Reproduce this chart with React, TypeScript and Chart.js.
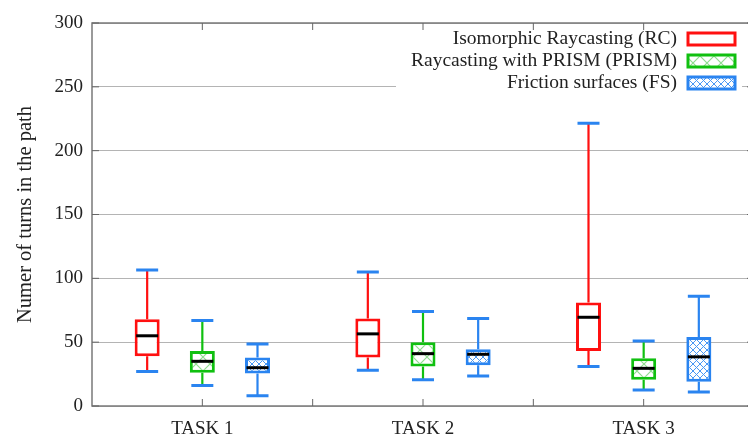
import React, { useEffect, useRef } from "react";
import { Chart, registerables } from "chart.js";

Chart.register(...registerables);

const categories = ["TASK 1", "TASK 2", "TASK 3"];
const seriesNames = [
  "Isomorphic Raycasting (RC)",
  "Raycasting with PRISM (PRISM)",
  "Friction surfaces (FS)",
];
const yAxisTitle = "Numer of turns in the path";
const yTickValues = [0, 50, 100, 150, 200, 250, 300];

const rcMin = [27, 28, 31];
const rcQ1 = [39, 38, 43];
const rcMedian = [55, 56.5, 69.5];
const rcQ3 = [68, 68.5, 81];
const rcMax = [106.5, 105, 221.5];

const prismMin = [16, 20.5, 12.5];
const prismQ1 = [26, 31, 20.5];
const prismMedian = [35, 41, 29.5];
const prismQ3 = [43, 50, 37.5];
const prismMax = [67, 74, 51];

const fsMin = [8, 23.5, 11];
const fsQ1 = [25.5, 32, 19];
const fsMedian = [30, 40.5, 38.5];
const fsQ3 = [38, 44.5, 54];
const fsMax = [48.5, 68.5, 86];

const RED = "#ff1010";
const GREEN = "#10c010";
const BLUE = "#2a84f0";
const CAP = "#2a84f0";
const FONT = "'Liberation Serif', 'Times New Roman', serif";

function makePattern(kind: "green" | "blue"): CanvasPattern | string {
  const c = document.createElement("canvas");
  const s = kind === "green" ? 14 : 7;
  c.width = s;
  c.height = s;
  const g = c.getContext("2d");
  if (!g) return "#fff";
  g.fillStyle = "#ffffff";
  g.fillRect(0, 0, s, s);
  g.strokeStyle = kind === "green" ? "#8fdc8f" : "#4a98f4";
  g.lineWidth = kind === "green" ? 1.2 : 1;
  g.beginPath();
  g.moveTo(0, 0);
  g.lineTo(s, s);
  g.moveTo(s, 0);
  g.lineTo(0, s);
  g.stroke();
  const p = g.createPattern(c, "repeat");
  return p || "#fff";
}

export default function App() {
  const ref = useRef<HTMLCanvasElement | null>(null);

  useEffect(() => {
    if (!ref.current) return;
    const greenPat = makePattern("green");
    const bluePat = makePattern("blue");
    const colors = [RED, GREEN, BLUE];
    const fills: any[] = ["#ffffff", greenPat, bluePat];
    const mins = [rcMin, prismMin, fsMin];
    const q1s = [rcQ1, prismQ1, fsQ1];
    const meds = [rcMedian, prismMedian, fsMedian];
    const q3s = [rcQ3, prismQ3, fsQ3];
    const maxs = [rcMax, prismMax, fsMax];

    const boxPlugin = {
      id: "boxExtras",
      beforeDatasetsDraw(chart: any) {
        const ctx = chart.ctx;
        const ys = chart.scales.y;
        const area = chart.chartArea;
        // legend background (opaque key box)
        ctx.save();
        ctx.fillStyle = "#ffffff";
        ctx.fillRect(396, area.top + 1, 346, 72);
        ctx.restore();
        // whiskers
        ctx.save();
        ctx.lineWidth = 2.2;
        for (let d = 0; d < 3; d++) {
          const meta = chart.getDatasetMeta(d);
          meta.data.forEach((el: any, i: number) => {
            ctx.strokeStyle = colors[d];
            ctx.beginPath();
            ctx.moveTo(el.x, ys.getPixelForValue(maxs[d][i]));
            ctx.lineTo(el.x, ys.getPixelForValue(q3s[d][i]));
            ctx.moveTo(el.x, ys.getPixelForValue(q1s[d][i]));
            ctx.lineTo(el.x, ys.getPixelForValue(mins[d][i]));
            ctx.stroke();
          });
        }
        ctx.restore();
      },
      afterDatasetsDraw(chart: any) {
        const ctx = chart.ctx;
        const ys = chart.scales.y;
        const xs = chart.scales.x;
        const area = chart.chartArea;
        ctx.save();
        // caps and medians
        for (let d = 0; d < 3; d++) {
          const meta = chart.getDatasetMeta(d);
          meta.data.forEach((el: any, i: number) => {
            ctx.lineWidth = 3;
            ctx.strokeStyle = CAP;
            ctx.beginPath();
            const capHalf = 11;
            const yMax = ys.getPixelForValue(maxs[d][i]);
            const yMin = ys.getPixelForValue(mins[d][i]);
            ctx.moveTo(el.x - capHalf, yMax);
            ctx.lineTo(el.x + capHalf, yMax);
            ctx.moveTo(el.x - capHalf, yMin);
            ctx.lineTo(el.x + capHalf, yMin);
            ctx.stroke();
            ctx.strokeStyle = "#000000";
            ctx.beginPath();
            const ym = ys.getPixelForValue(meds[d][i]);
            ctx.moveTo(el.x - el.width / 2 + 1.5, ym);
            ctx.lineTo(el.x + el.width / 2 - 1.5, ym);
            ctx.stroke();
          });
        }
        // frame
        ctx.strokeStyle = "#7a7a7a";
        ctx.lineWidth = 1.5;
        ctx.strokeRect(area.left, area.top, area.right - area.left, area.bottom - area.top);
        // inward ticks
        ctx.lineWidth = 1;
        ctx.strokeStyle = "#666";
        ctx.beginPath();
        yTickValues.forEach((v) => {
          const y = ys.getPixelForValue(v);
          ctx.moveTo(area.left, y);
          ctx.lineTo(area.left + 7, y);
          ctx.moveTo(area.right, y);
          ctx.lineTo(area.right - 7, y);
        });
        const n = categories.length;
        for (let k = 0; k < n; k++) {
          const xc = xs.getPixelForValue(k);
          const xb = k < n - 1 ? (xc + xs.getPixelForValue(k + 1)) / 2 : null;
          [xc, xb].forEach((x) => {
            if (x === null) return;
            ctx.moveTo(x, area.bottom);
            ctx.lineTo(x, area.bottom - 7);
            ctx.moveTo(x, area.top);
            ctx.lineTo(x, area.top + 7);
          });
        }
        ctx.stroke();
        // legend
        ctx.font = `19.5px ${FONT}`;
        ctx.textAlign = "right";
        ctx.textBaseline = "middle";
        const rowY = [39, 61, 83];
        seriesNames.forEach((name, d) => {
          ctx.fillStyle = "#222222";
          ctx.fillText(name, 677, rowY[d]);
          ctx.fillStyle = fills[d];
          ctx.fillRect(688, rowY[d] - 6, 47, 12);
          ctx.strokeStyle = colors[d];
          ctx.lineWidth = 3;
          ctx.strokeRect(688, rowY[d] - 6, 47, 12);
        });
        ctx.restore();
      },
    };

    const chart = new Chart(ref.current, {
      type: "bar",
      data: {
        labels: categories,
        datasets: seriesNames.map((name, d) => ({
          label: name,
          data: categories.map((_, i) => [q1s[d][i], q3s[d][i]]),
          backgroundColor: fills[d],
          borderColor: colors[d],
          borderWidth: 3,
          borderSkipped: false,
          categoryPercentage: 0.75,
          barPercentage: 1,
          maxBarThickness: 25,
        })) as any,
      },
      options: {
        responsive: false,
        animation: false,
        devicePixelRatio: 1,
        layout: { padding: { top: 23, right: 6, left: 0, bottom: 0 } },
        plugins: {
          legend: { display: false },
          tooltip: { enabled: false },
        },
        scales: {
          x: {
            offset: true,
            grid: { display: false },
            border: { display: false },
            ticks: {
              color: "#222",
              font: { family: FONT, size: 19 },
              padding: 4,
              maxRotation: 0,
            },
            afterFit: (s: any) => {
              s.height = 30;
            },
          },
          y: {
            min: 0,
            max: 300,
            afterBuildTicks: (s: any) => {
              s.ticks = yTickValues.map((v) => ({ value: v }));
            },
            grid: { color: "#b4b4b4", lineWidth: 1, drawTicks: false },
            border: { display: false },
            ticks: {
              color: "#222",
              font: { family: FONT, size: 19 },
              padding: 9,
            },
            title: {
              display: true,
              text: yAxisTitle,
              color: "#222",
              font: { family: FONT, size: 20.5 },
              padding: { top: 13, bottom: 0 },
            },
            afterFit: (s: any) => {
              s.width = 92;
            },
          },
        },
      },
      plugins: [boxPlugin],
    });
    return () => chart.destroy();
  }, []);

  return (
    <div
      style={{
        position: "fixed",
        left: 0,
        top: 0,
        width: 748,
        height: 436,
        overflow: "hidden",
        background: "#fff",
      }}
    >
      <canvas ref={ref} width={760} height={436} style={{ display: "block" }} />
    </div>
  );
}
